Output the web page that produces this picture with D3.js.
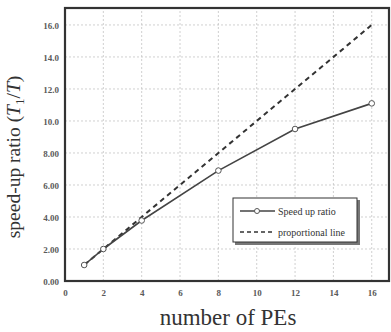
<!DOCTYPE html>
<html>
<head>
<meta charset="utf-8">
<script src="https://cdn.jsdelivr.net/npm/d3@7"></script>
<style>
  html, body { margin: 0; padding: 0; background: #fff; }
  svg { display: block; }
</style>
</head>
<body>
<svg id="chart" width="391" height="332"></svg>
<script>
// Number of processing elements and the measured speed-up ratio
const pes = [1, 2, 4, 8, 12, 16];
const speedup = [1.0, 2.0, 3.78, 6.9, 9.5, 11.1];
// Ideal (proportional) speed-up
const idealPes = [1, 16];
const idealSpeedup = [1, 16];

const xTicks = [0, 2, 4, 6, 8, 10, 12, 14, 16];
const yTicks = [0, 2, 4, 6, 8, 10, 12, 14, 16];
const yTickLabels = ["0.00", "2.00", "4.00", "6.00", "8.00", "10.0", "12.0", "14.0", "16.0"];
const legendLabels = ["Speed up ratio", "proportional line"];

const svg = d3.select("#chart");
const serif = "'Liberation Serif', 'DejaVu Serif', serif";
const margin = { left: 65, right: 2, top: 8, bottom: 51 };
const W = 391, H = 332;

const x = d3.scaleLinear().domain([0, 16.9]).range([margin.left, W - margin.right]);
const y = d3.scaleLinear().domain([0, 17.06]).range([H - margin.bottom, margin.top]);

// dotted grid
const grid = svg.append("g").attr("stroke", "#c4c4c4").attr("stroke-width", 0.8).attr("stroke-dasharray", "2,2");
grid.selectAll("line.h").data(yTicks.filter(d => d > 0)).join("line")
  .attr("x1", x(0)).attr("x2", x(16.9))
  .attr("y1", d => y(d)).attr("y2", d => y(d));
grid.selectAll("line.v").data(xTicks.filter(d => d > 0)).join("line")
  .attr("y1", y(0)).attr("y2", y(17.06))
  .attr("x1", d => x(d)).attr("x2", d => x(d));

// axes (labels only; frame drawn separately)
const xAxis = d3.axisBottom(x).tickValues(xTicks).tickSize(0).tickPadding(9).tickFormat(d3.format("d"));
const yAxis = d3.axisLeft(y).tickValues(yTicks).tickSize(0).tickPadding(6)
  .tickFormat((d, i) => yTickLabels[i]);

const gx = svg.append("g").attr("transform", `translate(0,${y(0)})`).call(xAxis);
const gy = svg.append("g").attr("transform", `translate(${x(0)},0)`).call(yAxis);
[gx, gy].forEach(g => {
  g.select(".domain").remove();
  g.selectAll("text").attr("font-family", serif).attr("font-size", 9)
    .attr("font-weight", "bold").attr("fill", "#5a5a5a");
});
gy.selectAll("text").attr("dy", "0.75em").attr("transform", "translate(0,-3)");

// frame
svg.append("rect")
  .attr("x", x(0)).attr("y", y(17.06))
  .attr("width", x(16.9) - x(0)).attr("height", y(0) - y(17.06))
  .attr("fill", "none").attr("stroke", "#333").attr("stroke-width", 2.2);

// proportional line
svg.append("path")
  .datum(idealPes.map((p, i) => [p, idealSpeedup[i]]))
  .attr("d", d3.line().x(d => x(d[0])).y(d => y(d[1])))
  .attr("fill", "none").attr("stroke", "#333").attr("stroke-width", 2)
  .attr("stroke-dasharray", "5,4");

// measured speed-up
const pts = pes.map((p, i) => [p, speedup[i]]);
svg.append("path")
  .datum(pts)
  .attr("d", d3.line().x(d => x(d[0])).y(d => y(d[1])))
  .attr("fill", "none").attr("stroke", "#444").attr("stroke-width", 1.6);
svg.selectAll("circle.pt").data(pts).join("circle")
  .attr("cx", d => x(d[0])).attr("cy", d => y(d[1])).attr("r", 2.8)
  .attr("fill", "#fff").attr("stroke", "#555").attr("stroke-width", 1);

// legend
const lg = svg.append("g").attr("transform", "translate(233,198)");
lg.append("rect").attr("x", 2).attr("y", 2).attr("width", 125).attr("height", 45)
  .attr("fill", "#777");
lg.append("rect").attr("x", 0).attr("y", 0).attr("width", 124).attr("height", 44)
  .attr("fill", "#fff").attr("stroke", "#333").attr("stroke-width", 1);
lg.append("line").attr("x1", 7).attr("x2", 42).attr("y1", 13).attr("y2", 13)
  .attr("stroke", "#444").attr("stroke-width", 1.6);
lg.append("circle").attr("cx", 24).attr("cy", 13).attr("r", 2.5)
  .attr("fill", "#fff").attr("stroke", "#555");
lg.append("line").attr("x1", 7).attr("x2", 42).attr("y1", 34).attr("y2", 34)
  .attr("stroke", "#333").attr("stroke-width", 1.6).attr("stroke-dasharray", "4,3");
lg.selectAll("text").data(legendLabels).join("text")
  .attr("x", 45).attr("y", (d, i) => 13 + i * 21).attr("dy", "0.35em")
  .attr("font-family", serif).attr("font-size", 10).attr("fill", "#333")
  .text(d => d);

// axis titles
svg.append("text")
  .attr("x", 228).attr("y", 325).attr("text-anchor", "middle")
  .attr("font-family", serif).attr("font-size", 23).attr("fill", "#333")
  .text("number of PEs");

const yt = svg.append("text")
  .attr("transform", "translate(20,157) rotate(-90)")
  .attr("text-anchor", "middle")
  .attr("font-family", serif).attr("font-size", 19.5).attr("fill", "#333");
yt.append("tspan").text("speed-up ratio (");
yt.append("tspan").attr("font-style", "italic").text("T");
yt.append("tspan").attr("font-size", 13).attr("dy", 4).text("1");
yt.append("tspan").attr("dy", -4).text("/");
yt.append("tspan").attr("font-style", "italic").text("T");
yt.append("tspan").text(")");
</script>
</body>
</html>
